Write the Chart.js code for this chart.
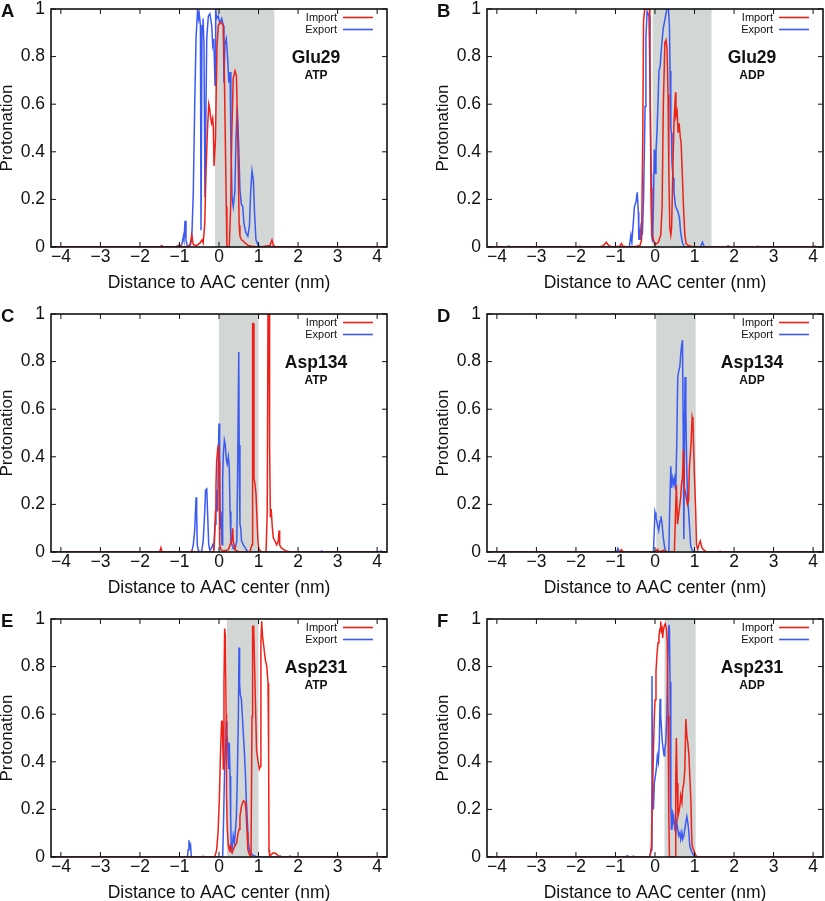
<!DOCTYPE html>
<html>
<head>
<meta charset="utf-8">
<script src="https://cdn.jsdelivr.net/npm/chart.js@4.4.1/dist/chart.umd.min.js"></script>
<style>
    html, body { margin: 0; padding: 0; background: #fff; overflow: hidden; }
    .panel { position: absolute; width: 388px; height: 300px; }
</style>
</head>
<body>
<div class="panel" style="left:0;top:0"><canvas id="cA" width="388" height="300"></canvas></div>
<div class="panel" style="left:436px;top:0"><canvas id="cB" width="388" height="300"></canvas></div>
<div class="panel" style="left:0;top:305px"><canvas id="cC" width="388" height="300"></canvas></div>
<div class="panel" style="left:436px;top:305px"><canvas id="cD" width="388" height="300"></canvas></div>
<div class="panel" style="left:0;top:610px"><canvas id="cE" width="388" height="300"></canvas></div>
<div class="panel" style="left:436px;top:610px"><canvas id="cF" width="388" height="300"></canvas></div>
<script>
// ejes y textos
const xTicks = [-4, -3, -2, -1, 0, 1, 2, 3, 4];
const yTicks = [0, 0.2, 0.4, 0.6, 0.8, 1];
const xTitle = 'Distance to AAC center (nm)';
const yTitle = 'Protonation';
const seriesNames = ['Import', 'Export'];

const panelLetters = ['A', 'B', 'C', 'D', 'E', 'F'];
const residues = ['Glu29', 'Glu29', 'Asp134', 'Asp134', 'Asp231', 'Asp231'];
const ligands = ['ATP', 'ADP', 'ATP', 'ADP', 'ATP', 'ADP'];
// zona sombreada (nm)
const shadeFrom = [-0.1, -0.06, 0, 0.03, 0.2, 0.24];
const shadeTo = [1.4, 1.43, 1.0, 1.03, 1.0, 1.03];

// DATOS [distancia, protonacion]
const importA = [[-4.25,0],[-1.5,0],[-1.45,0.006],[-1.4,0],[-1.05,0],[-1.0,0.01],[-0.95,0],[-0.75,0.003],[-0.72,0.02],[-0.69,0.05],[-0.65,0.01],[-0.565,0.006],[-0.48,0.017],[-0.43,0.03],[-0.4,0.017],[-0.36,0.1],[-0.33,0.31],[-0.295,0.48],[-0.26,0.6],[-0.235,0.58],[-0.21,0.54],[-0.185,0.52],[-0.16,0.54],[-0.145,0.51],[-0.125,0.34],[-0.09,0.45],[-0.05,0.85],[-0.017,0.93],[0.025,0.945],[0.07,0.94],[0.11,0.93],[0.135,0.73],[0.16,0.45],[0.185,0.17],[0.2,0],[0.26,0],[0.295,0.17],[0.32,0.45],[0.36,0.71],[0.405,0.74],[0.44,0.72],[0.46,0.59],[0.49,0.31],[0.51,0.09],[0.53,0.045],[0.57,0.03],[0.615,0.024],[0.68,0.014],[0.74,0.006],[0.83,0.003],[1.04,0],[1.29,0.006],[1.34,0.03],[1.375,0.006],[1.46,0],[4.25,0]];
const exportA = [[-4.25,0],[-1.5,0],[-1.45,0.004],[-1.4,0],[-1.1,0],[-1.05,0.005],[-0.99,0],[-0.94,0.01],[-0.9,0.045],[-0.885,0.03],[-0.86,0.11],[-0.835,0.03],[-0.8,0.003],[-0.73,0.006],[-0.69,0.03],[-0.65,0.23],[-0.615,0.59],[-0.58,0.88],[-0.54,1.0],[-0.52,0.96],[-0.5,0.98],[-0.47,0.93],[-0.455,0.07],[-0.43,0.93],[-0.405,0.96],[-0.38,0.85],[-0.355,0.21],[-0.31,0.876],[-0.27,0.97],[-0.23,0.98],[-0.185,0.93],[-0.16,0.85],[-0.135,0.875],[-0.12,0.8],[-0.1,0.68],[-0.085,1.0],[-0.06,0.96],[-0.02,0.97],[0.025,0.94],[0.07,0.96],[0.11,0.93],[0.125,0.69],[0.15,0.85],[0.185,0.875],[0.22,0.79],[0.25,0.69],[0.28,0.735],[0.3,0.45],[0.33,0.21],[0.36,0.17],[0.4,0.23],[0.43,0.45],[0.46,0.59],[0.5,0.42],[0.53,0.24],[0.565,0.18],[0.6,0.17],[0.63,0.1],[0.68,0.06],[0.73,0.045],[0.77,0.09],[0.8,0.23],[0.835,0.32],[0.87,0.28],[0.9,0.14],[0.935,0.03],[0.995,0.006],[1.08,0],[4.25,0]];

const importB = [[-4.25,0],[-1.4,0],[-1.31,0.005],[-1.23,0.02],[-1.19,0.01],[-1.1,0],[-0.89,0.003],[-0.85,0.015],[-0.81,0.003],[-0.64,0],[-0.47,0.003],[-0.38,0.006],[-0.34,0.03],[-0.31,0.45],[-0.29,0.95],[-0.26,1.0],[-0.21,1.0],[-0.14,1.0],[-0.13,0.8],[-0.1,0.25],[-0.08,0.06],[-0.04,0.03],[0,0.01],[0.085,0.02],[0.145,0.05],[0.18,0.17],[0.21,0.59],[0.25,0.86],[0.28,0.87],[0.305,0.83],[0.33,0.64],[0.35,0.31],[0.375,0.08],[0.4,0.05],[0.42,0.08],[0.45,0.31],[0.48,0.52],[0.52,0.65],[0.53,0.55],[0.56,0.57],[0.585,0.48],[0.61,0.52],[0.64,0.46],[0.66,0.44],[0.69,0.31],[0.72,0.17],[0.755,0.05],[0.79,0.013],[0.85,0.006],[0.975,0],[4.25,0]];
const exportB = [[-4.25,0],[-3.75,0],[-3.7,0.004],[-3.65,0],[-1.95,0],[-1.9,0.003],[-1.85,0],[-0.65,0],[-0.61,0.05],[-0.585,0.02],[-0.55,0.1],[-0.52,0.17],[-0.48,0.19],[-0.45,0.23],[-0.42,0.145],[-0.41,0.03],[-0.39,0.06],[-0.37,0.03],[-0.35,0.1],[-0.32,0.05],[-0.29,0.2],[-0.25,0.59],[-0.23,0.88],[-0.2,0.99],[-0.18,0.99],[-0.15,0.97],[-0.13,0.74],[-0.1,0.31],[-0.085,0.05],[-0.06,0.02],[-0.04,0.17],[-0.017,0.41],[0.01,0.31],[0.025,0.4],[0.05,0.48],[0.075,0.6],[0.1,0.74],[0.13,0.76],[0.155,0.82],[0.18,0.87],[0.21,0.92],[0.255,0.96],[0.3,1.0],[0.34,1.0],[0.365,0.93],[0.38,0.74],[0.4,0.5],[0.415,0.48],[0.43,0.35],[0.46,0.29],[0.48,0.23],[0.52,0.17],[0.55,0.16],[0.585,0.146],[0.62,0.12],[0.65,0.06],[0.69,0.02],[0.74,0],[1.15,0],[1.2,0.02],[1.25,0],[1.8,0],[1.85,0.005],[1.9,0],[2.55,0],[2.6,0.003],[2.65,0],[4.0,0],[4.05,0.004],[4.1,0],[4.25,0]];

const importC = [[-4.25,0],[-1.5,0],[-1.47,0.018],[-1.44,0],[-0.72,0],[-0.69,0.005],[-0.65,0],[-0.14,0],[-0.12,0.03],[-0.09,0.17],[-0.076,0.28],[-0.06,0.38],[-0.034,0.43],[-0.017,0.45],[0,0.38],[0.008,0.17],[0.025,0.03],[0.05,0.01],[0.11,0.004],[0.19,0.007],[0.24,0.011],[0.28,0.03],[0.32,0.046],[0.345,0.1],[0.36,0.046],[0.38,0.03],[0.4,0.011],[0.45,0.004],[0.53,0],[0.78,0],[0.835,0.03],[0.85,0.96],[0.87,0.96],[0.885,0.31],[0.91,0.285],[0.935,0.245],[0.96,0.145],[0.985,0.046],[1.01,0.011],[1.08,0],[1.19,0],[1.22,0.17],[1.24,1.0],[1.265,1.0],[1.28,0.45],[1.3,0.145],[1.32,0.18],[1.35,0.1],[1.375,0.06],[1.415,0.046],[1.46,0.03],[1.5,0.046],[1.52,0.09],[1.535,0.03],[1.57,0.018],[1.63,0.011],[1.71,0.004],[1.8,0],[4.25,0]];
const exportC = [[-4.25,0],[-0.69,0],[-0.65,0.03],[-0.615,0.09],[-0.58,0.23],[-0.565,0.17],[-0.55,0.03],[-0.52,0.004],[-0.44,0],[-0.4,0.046],[-0.36,0.17],[-0.34,0.26],[-0.31,0.265],[-0.29,0.17],[-0.26,0.03],[-0.23,0.007],[-0.185,0.018],[-0.16,0.03],[-0.13,0.018],[-0.1,0.117],[-0.076,0.17],[-0.05,0.26],[-0.034,0.17],[-0.017,0.42],[0,0.54],[0.017,0.31],[0.034,0.1],[0.05,0.17],[0.076,0.03],[0.093,0.31],[0.11,0.41],[0.135,0.47],[0.16,0.45],[0.185,0.39],[0.21,0.37],[0.236,0.4],[0.26,0.355],[0.28,0.17],[0.3,0.046],[0.33,0.03],[0.36,0.015],[0.4,0.011],[0.45,0.046],[0.47,0.31],[0.5,0.84],[0.51,0.45],[0.53,0.117],[0.55,0.1],[0.57,0.046],[0.615,0.03],[0.66,0.018],[0.7,0.007],[0.74,0],[2.55,0],[2.6,0.004],[2.65,0],[4.05,0],[4.1,0.004],[4.15,0],[4.25,0]];

const importD = [[-4.25,0],[-0.9,0],[-0.85,0.01],[-0.8,0],[0,0],[0.06,0.011],[0.12,0],[0.21,0.007],[0.3,0],[0.49,0],[0.52,0.17],[0.54,0.28],[0.57,0.117],[0.59,0.145],[0.62,0.186],[0.65,0.23],[0.67,0.285],[0.695,0.31],[0.72,0.43],[0.74,0.27],[0.76,0.257],[0.79,0.23],[0.82,0.2],[0.85,0.215],[0.87,0.355],[0.91,0.45],[0.94,0.567],[0.96,0.55],[0.975,0.45],[1.0,0.31],[1.03,0.17],[1.05,0.03],[1.08,0.011],[1.11,0.03],[1.145,0.046],[1.17,0.03],[1.195,0.015],[1.25,0.007],[1.31,0],[1.6,0],[1.65,0.003],[1.7,0],[4.25,0]];
const exportD = [[-4.25,0],[-0.97,0],[-0.94,0.015],[-0.9,0],[-0.04,0],[-0.025,0.06],[0,0.166],[0.025,0.145],[0.06,0.117],[0.093,0.09],[0.127,0.13],[0.15,0.15],[0.18,0.117],[0.21,0.06],[0.245,0.018],[0.28,0],[0.35,0],[0.37,0.17],[0.4,0.36],[0.42,0.27],[0.45,0.31],[0.475,0.285],[0.5,0.31],[0.525,0.26],[0.55,0.45],[0.575,0.735],[0.6,0.76],[0.63,0.78],[0.65,0.83],[0.68,0.876],[0.695,0.89],[0.71,0.59],[0.73,0.055],[0.745,0.45],[0.76,0.735],[0.78,0.59],[0.8,0.38],[0.82,0.24],[0.85,0.17],[0.875,0.103],[0.9,0.03],[0.93,0.011],[0.975,0],[4.25,0]];

const importE = [[-4.25,0],[-0.45,0],[-0.4,0.003],[-0.35,0],[-0.14,0],[-0.1,0.003],[-0.06,0.03],[-0.025,0.1],[0.008,0.24],[0.04,0.45],[0.067,0.57],[0.084,0.57],[0.11,0.37],[0.126,0.73],[0.143,0.96],[0.16,0.93],[0.18,0.6],[0.19,0.25],[0.21,0.117],[0.236,0.046],[0.26,0.03],[0.28,0.046],[0.3,0.025],[0.33,0.018],[0.36,0.03],[0.4,0.046],[0.45,0.06],[0.47,0.09],[0.51,0.117],[0.53,0.17],[0.57,0.215],[0.615,0.236],[0.66,0.23],[0.68,0.2],[0.71,0.103],[0.73,0.03],[0.77,0.011],[0.81,0],[0.835,0.59],[0.85,0.97],[0.877,0.97],[0.9,0.8],[0.93,0.59],[0.95,0.45],[0.99,0.4],[1.02,0.37],[1.045,0.38],[1.06,0.9],[1.08,0.99],[1.1,0.93],[1.14,0.875],[1.17,0.83],[1.21,0.8],[1.24,0.73],[1.255,0.45],[1.265,0.03],[1.28,0.004],[1.33,0.011],[1.37,0.018],[1.44,0.015],[1.5,0.004],[1.585,0],[4.25,0]];
const exportE = [[-4.25,0],[-0.8,0],[-0.78,0.03],[-0.76,0.07],[-0.74,0.04],[-0.72,0.05],[-0.7,0],[0.093,0],[0.118,0.17],[0.143,0.38],[0.17,0.48],[0.185,0.57],[0.2,0.51],[0.22,0.48],[0.245,0.37],[0.26,0.48],[0.28,0.34],[0.295,0.17],[0.31,0.046],[0.33,0.03],[0.36,0.09],[0.39,0.06],[0.41,0.1],[0.44,0.17],[0.46,0.31],[0.49,0.59],[0.506,0.88],[0.52,0.73],[0.54,0.68],[0.565,0.665],[0.59,0.595],[0.615,0.52],[0.64,0.45],[0.67,0.34],[0.69,0.24],[0.72,0.145],[0.74,0.06],[0.77,0.03],[0.8,0.015],[0.87,0.007],[0.95,0],[1.5,0],[1.55,0.004],[1.6,0],[1.75,0],[1.8,0.004],[1.85,0],[2.95,0],[3.0,0.004],[3.05,0],[4.25,0]];

const importF = [[-4.25,0],[-0.13,0],[-0.09,0.046],[-0.07,0.24],[-0.04,0.45],[-0.017,0.59],[0,0.66],[0.025,0.78],[0.05,0.85],[0.076,0.9],[0.1,0.93],[0.127,0.96],[0.144,0.99],[0.16,0.95],[0.18,0.96],[0.195,0.92],[0.21,0.95],[0.24,0.975],[0.26,0.98],[0.29,0.96],[0.31,0.9],[0.33,0.595],[0.35,0.17],[0.365,0],[0.51,0],[0.525,0.31],[0.54,0.5],[0.56,0.31],[0.58,0.17],[0.6,0.186],[0.63,0.215],[0.65,0.257],[0.68,0.23],[0.7,0.285],[0.73,0.31],[0.755,0.37],[0.78,0.58],[0.805,0.51],[0.83,0.48],[0.857,0.43],[0.88,0.34],[0.91,0.23],[0.925,0.103],[0.94,0.046],[0.975,0.03],[1.02,0.011],[1.06,0],[4.25,0]];
const exportF = [[-4.25,0],[-0.75,0],[-0.7,0.005],[-0.65,0],[-0.58,0],[-0.55,0.004],[-0.5,0],[-0.17,0],[-0.13,0.003],[-0.09,0.03],[-0.076,0.76],[-0.06,0.24],[-0.04,0.2],[-0.017,0.31],[0.008,0.34],[0.034,0.37],[0.06,0.425],[0.085,0.4],[0.11,0.48],[0.127,0.665],[0.144,0.595],[0.16,0.55],[0.187,0.48],[0.21,0.45],[0.23,0.425],[0.246,0.45],[0.27,0.48],[0.3,0.595],[0.32,0.806],[0.35,0.975],[0.365,0.96],[0.38,0.735],[0.4,0.23],[0.415,0.117],[0.43,0.2],[0.45,0.145],[0.475,0.17],[0.5,0.117],[0.525,0.103],[0.55,0.145],[0.576,0.117],[0.6,0.09],[0.63,0.103],[0.65,0.075],[0.68,0.103],[0.7,0.075],[0.73,0.09],[0.755,0.117],[0.78,0.145],[0.806,0.17],[0.83,0.145],[0.857,0.103],[0.88,0.046],[0.91,0.03],[0.94,0.018],[0.975,0.007],[1.02,0],[4.25,0]];

const importSeries = [importA, importB, importC, importD, importE, importF];
const exportSeries = [exportA, exportB, exportC, exportD, exportE, exportF];

const RED = '#ef2018';
const BLUE = '#3a5af2';
const SHADE = '#d2d7d5';
const INK = '#111';
const FONT = '"Liberation Sans", Arial, Helvetica, sans-serif';

Chart.defaults.font.family = FONT;
Chart.defaults.color = INK;

function toPoints(arr) {
    return arr.map(p => ({ x: p[0], y: p[1] }));
}

function fmtX(v) {
    return v < 0 ? '\u2212' + Math.abs(v) : String(v);
}

// sombreado, marco, marcas, leyenda y etiquetas
const decoPlugin = {
    id: 'deco',
    beforeDatasetsDraw(chart, args, opts) {
        const { ctx, chartArea: a, scales: { x } } = chart;
        const x0 = x.getPixelForValue(opts.from);
        const x1 = x.getPixelForValue(opts.to);
        ctx.save();
        ctx.fillStyle = SHADE;
        ctx.fillRect(x0, a.top, x1 - x0, a.bottom - a.top);
        ctx.restore();
    },
    afterDraw(chart, args, opts) {
        const { ctx, chartArea: a, scales: { x, y } } = chart;
        ctx.save();
        ctx.strokeStyle = INK;
        ctx.lineWidth = 1;
        ctx.beginPath();
        xTicks.forEach(v => {
            const px = x.getPixelForValue(v);
            ctx.moveTo(px, a.bottom); ctx.lineTo(px, a.bottom - 5);
            ctx.moveTo(px, a.top); ctx.lineTo(px, a.top + 5);
        });
        yTicks.forEach(v => {
            const py = y.getPixelForValue(v);
            ctx.moveTo(a.left, py); ctx.lineTo(a.left + 5, py);
            ctx.moveTo(a.right, py); ctx.lineTo(a.right - 5, py);
        });
        ctx.stroke();
        ctx.lineWidth = 1.6;
        ctx.strokeRect(a.left, a.top, a.right - a.left, a.bottom - a.top);

        // leyenda
        ctx.font = '11px ' + FONT;
        ctx.textAlign = 'right';
        ctx.textBaseline = 'middle';
        chart.data.datasets.forEach((ds, i) => {
            const ly = a.top + 8.5 + i * 12;
            ctx.fillStyle = INK;
            ctx.fillText(ds.label, a.right - 50, ly + 0.5);
            ctx.strokeStyle = ds.borderColor;
            ctx.lineWidth = 1.6;
            ctx.beginPath();
            ctx.moveTo(a.right - 44, ly);
            ctx.lineTo(a.right - 14, ly);
            ctx.stroke();
        });

        // residuo y ligando
        ctx.fillStyle = INK;
        ctx.textAlign = 'center';
        ctx.textBaseline = 'alphabetic';
        ctx.font = 'bold 17.5px ' + FONT;
        ctx.fillText(opts.residue, a.right - 71, a.top + 54);
        ctx.font = 'bold 12px ' + FONT;
        ctx.fillText(opts.ligand, a.right - 71, a.top + 70);

        // letra del panel
        ctx.textAlign = 'left';
        ctx.font = 'bold 18.5px ' + FONT;
        ctx.fillText(opts.letter, 1, a.top + 8);
        ctx.restore();
    }
};

function drawPanel(i) {
    const ctx = document.getElementById('c' + panelLetters[i]).getContext('2d');
    return new Chart(ctx, {
        type: 'line',
        data: {
            datasets: [{
                label: seriesNames[0],
                data: toPoints(importSeries[i]),
                borderColor: RED,
                borderWidth: 1.5,
                pointRadius: 0,
                tension: 0,
                fill: false
            },
            {
                label: seriesNames[1],
                data: toPoints(exportSeries[i]),
                borderColor: BLUE,
                borderWidth: 1.5,
                pointRadius: 0,
                tension: 0,
                fill: false
            }]
        },
        options: {
            responsive: false,
            animation: false,
            devicePixelRatio: 1,
            layout: { padding: { top: 9, right: 1, left: 0, bottom: 0 } },
            plugins: {
                legend: { display: false },
                tooltip: { enabled: false },
                deco: {
                    from: shadeFrom[i],
                    to: shadeTo[i],
                    letter: panelLetters[i],
                    residue: residues[i],
                    ligand: ligands[i]
                }
            },
            scales: {
                x: {
                    type: 'linear',
                    min: -4.25,
                    max: 4.25,
                    grid: { display: false, drawTicks: false },
                    border: { display: false },
                    afterBuildTicks: s => { s.ticks = xTicks.map(v => ({ value: v })); },
                    afterFit: s => { s.height = 53; },
                    ticks: {
                        autoSkip: false,
                        maxRotation: 0,
                        padding: 1,
                        color: INK,
                        font: { size: 17.5, lineHeight: 1 },
                        callback: v => fmtX(v)
                    },
                    title: {
                        display: true,
                        text: xTitle,
                        color: INK,
                        font: { size: 17.5, lineHeight: 1.2 },
                        padding: { top: 0, bottom: 6.5 }
                    }
                },
                y: {
                    type: 'linear',
                    min: 0,
                    max: 1,
                    grid: { display: false, drawTicks: false },
                    border: { display: false },
                    afterBuildTicks: s => { s.ticks = yTicks.map(v => ({ value: v })); },
                    afterFit: s => { s.width = 51; },
                    ticks: {
                        padding: 6,
                        color: INK,
                        font: { size: 17.5, lineHeight: 0.2 },
                        callback: v => String(v)
                    },
                    title: {
                        display: true,
                        text: yTitle,
                        color: INK,
                        font: { size: 17, lineHeight: 0.9 },
                        padding: { top: 0, bottom: 0 }
                    }
                }
            }
        },
        plugins: [decoPlugin]
    });
}

panelLetters.forEach((l, i) => drawPanel(i));
</script>
</body>
</html>
